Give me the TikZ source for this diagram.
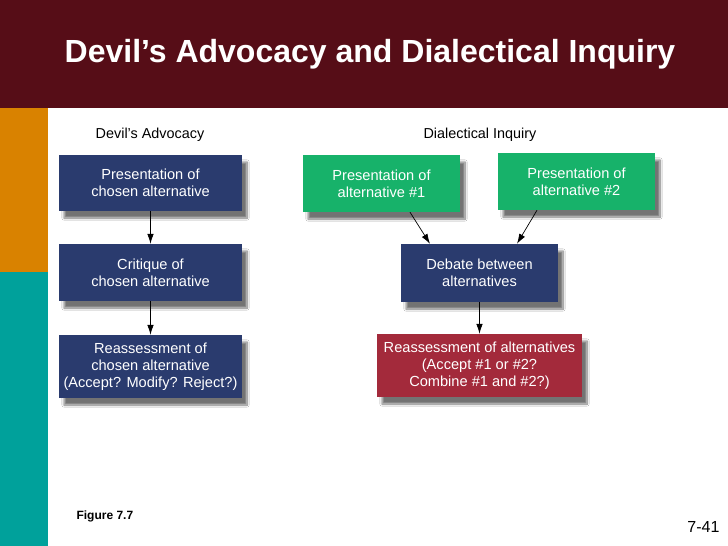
\documentclass[tikz,border=0pt]{standalone}
\usepackage{fontspec}
\setmainfont{Liberation Sans}
\usepackage{tikz}
\usetikzlibrary{shapes, positioning, arrows.meta, shadows.blur, calc}

\definecolor{titlebar}{HTML}{560D17}
\definecolor{stripeorange}{HTML}{D98200}
\definecolor{stripeteal}{HTML}{00A19B}
\definecolor{boxnavy}{HTML}{2A3B6E}
\definecolor{boxgreen}{HTML}{17B26A}
\definecolor{boxred}{HTML}{A32A3B}

\tikzset{
  stepbox/.style={draw=none, text=white, align=center, inner sep=0pt,
    font=\fontsize{14.6}{17}\selectfont,
    blur shadow={shadow xshift=5pt, shadow yshift=-7pt, shadow blur steps=10, shadow opacity=55}},
  flow/.style={-{Latex[length=10pt,width=6.5pt]}, line width=0.7pt, black},
  heading/.style={font=\fontsize{14.4}{16}\selectfont, text=black}
}

\begin{document}
\begin{tikzpicture}[x=1pt, y=-1pt]
        % Slide background and decoration
        \useasboundingbox (0,0) rectangle (728,546);
        \fill[white] (0,0) rectangle (728,546);
        \fill[titlebar] (0,0) rectangle (728,108);
        \fill[stripeorange] (0,108) rectangle (48,272);
        \fill[stripeteal] (0,272) rectangle (48,546);
        \node[text=white, font=\bfseries\fontsize{32}{36}\selectfont] (title) at (370,54)
        {Devil’s Advocacy and Dialectical Inquiry};

        % Devil's advocacy column
        \node[heading] (dalabel) at (150,135) {Devil's Advocacy};
        \node[stepbox, fill=boxnavy, minimum width=183pt, minimum height=56pt] (present) at (150.5,183)
        {Presentation of\\chosen alternative};
        \node[stepbox, fill=boxnavy, minimum width=183pt, minimum height=57pt] (critique) at (150.5,272.5)
        {Critique of\\chosen alternative};
        \node[stepbox, fill=boxnavy, minimum width=183pt, minimum height=63pt] (reassess) at (150.5,366.5)
        {Reassessment of\\chosen alternative\\(Accept? Modify? Reject?)};
        \draw[flow] (present) -- (critique);
        \draw[flow] (critique) -- (reassess);

        % Dialectical inquiry column
        \node[heading] (dilabel) at (480,135) {Dialectical Inquiry};
        \node[stepbox, fill=boxgreen, minimum width=157pt, minimum height=57pt] (altone) at (381.5,183.5)
        {Presentation of\\alternative \#1};
        \node[stepbox, fill=boxgreen, minimum width=157pt, minimum height=57pt] (alttwo) at (576.5,181.5)
        {Presentation of\\alternative \#2};
        \node[stepbox, fill=boxnavy, minimum width=157pt, minimum height=58pt] (debate) at (479.5,273)
        {Debate between\\alternatives};
        \node[stepbox, fill=boxred, minimum width=205pt, minimum height=63pt] (altreassess) at (479.5,365.5)
        {Reassessment of alternatives\\(Accept \#1 or \#2?\\Combine \#1 and \#2?)};
        \draw[flow] ([xshift=28.5pt]altone.south) -- ([xshift=-49.5pt]debate.north);
        \draw[flow] ([xshift=-39.5pt]alttwo.south) -- ([xshift=37.5pt]debate.north);
        \draw[flow] (debate) -- (altreassess);

        % Footer
        \node[anchor=west, font=\bfseries\fontsize{12}{14}\selectfont] (fig) at (73,516) {Figure 7.7};
        \node[anchor=east, font=\fontsize{16}{18}\selectfont] (pagenum) at (723,527) {7-41};
    \end{tikzpicture}
\end{document}
